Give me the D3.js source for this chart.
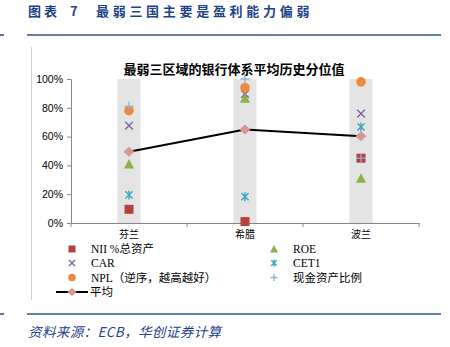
<!DOCTYPE html>
<html>
<head>
<meta charset="utf-8">
<script src="https://cdn.jsdelivr.net/npm/d3@7/dist/d3.min.js"></script>
<style>
  html, body { margin: 0; padding: 0; background: #fff; }
  svg { display: block; }
</style>
</head>
<body>
<svg id="chart" width="450" height="347"></svg>
<script>
// Regions and historical percentile values per indicator
const categories = ["芬兰", "希腊", "波兰"];
const niiToAssets = [0.095, 0.01, 0.45];
const roe = [0.41, 0.866, 0.31];
const car = [0.676, 0.896, 0.76];
const cet1 = [0.195, 0.183, 0.667];
const nplReversed = [0.78, 0.94, 0.98];
const cashRatio = [0.81, 1.0, 0.45];
const yTicks = [0, 0.2, 0.4, 0.6, 0.8, 1.0];

const seriesNames = ["NII %总资产", "CAR", "NPL（逆序，越高越好）", "ROE", "CET1", "现金资产比例"];
const averageName = "平均";

const series = [
  { name: seriesNames[0], values: niiToAssets, shape: "square", color: "#B5403E" },
  { name: seriesNames[1], values: car, shape: "x", color: "#7F62A1" },
  { name: seriesNames[2], values: nplReversed, shape: "circle", color: "#EE8A3C" },
  { name: seriesNames[3], values: roe, shape: "triangle", color: "#8DB04D" },
  { name: seriesNames[4], values: cet1, shape: "star", color: "#3FA6C0" },
  { name: seriesNames[5], values: cashRatio, shape: "plus", color: "#90ADD6" }
];

// Average across indicators for each region
const averages = categories.map((c, i) => d3.mean(series, s => s.values[i]));

const svg = d3.select("#chart");
const cjk = "'Noto Sans CJK SC', 'Noto Sans', sans-serif";
const blue = "#2C5597";

// Page header
const header = svg.append("g").attr("fill", "#1F4388")
  .attr("font-family", cjk).attr("font-weight", "bold").attr("font-size", 13);
header.append("text").attr("x", 28).attr("y", 15.5).attr("letter-spacing", 3).text("图表");
header.append("text").attr("x", 70).attr("y", 15.5).text("7");
header.append("text").attr("x", 96).attr("y", 15.5).attr("letter-spacing", 3.7).text("最弱三国主要是盈利能力偏弱");

svg.append("line").attr("x1", 27).attr("x2", 441).attr("y1", 35).attr("y2", 35)
  .attr("stroke", blue).attr("stroke-width", 1.6);
svg.append("line").attr("x1", 0).attr("x2", 4).attr("y1", 35).attr("y2", 35)
  .attr("stroke", blue).attr("stroke-width", 1.6);

// Chart frame (left edge)
svg.append("line").attr("x1", 31.5).attr("x2", 31.5).attr("y1", 47).attr("y2", 300)
  .attr("stroke", "#d0d0d0").attr("stroke-width", 1);

// Footer
svg.append("line").attr("x1", 27).attr("x2", 441).attr("y1", 314).attr("y2", 314)
  .attr("stroke", blue).attr("stroke-width", 1.6);
svg.append("line").attr("x1", 0).attr("x2", 4).attr("y1", 314).attr("y2", 314)
  .attr("stroke", blue).attr("stroke-width", 1.6);
svg.append("text").attr("x", 28).attr("y", 337).attr("fill", "#1F4388")
  .attr("font-family", cjk).attr("font-style", "italic").attr("font-size", 13.5)
  .attr("letter-spacing", 0.4).text("资料来源：ECB，华创证券计算");

// Scales
const x = d3.scaleBand().domain(categories).range([71, 419]);
const y = d3.scaleLinear().domain([0, 1]).range([223, 79]);

// Chart title
svg.append("text").attr("x", 234).attr("y", 74).attr("text-anchor", "middle")
  .attr("font-family", cjk).attr("font-weight", "bold").attr("font-size", 13)
  .attr("fill", "#000").text("最弱三区域的银行体系平均历史分位值");

// Grey range bands behind each region
const bandW = 23;
svg.append("g").selectAll("rect").data(categories).join("rect")
  .attr("x", d => x(d) + x.bandwidth() / 2 - bandW / 2)
  .attr("y", y(1)).attr("width", bandW).attr("height", y(0) - y(1))
  .attr("fill", "#e4e4e4");

// Y axis
const yAxis = svg.append("g").attr("transform", "translate(71,0)")
  .call(d3.axisLeft(y).tickValues(yTicks).tickFormat(d3.format(".0%")).tickSize(4).tickPadding(4));
yAxis.select(".domain").attr("stroke", "#868686");
yAxis.selectAll(".tick line").attr("stroke", "#868686");
yAxis.selectAll(".tick text").attr("font-family", "'Liberation Sans', Arial, sans-serif")
  .attr("font-size", 10.5).attr("fill", "#000");

// X axis with ticks on band boundaries
const xAxis = svg.append("g").attr("transform", "translate(0,223)")
  .call(d3.axisBottom(x).tickSize(0).tickPadding(8));
xAxis.select(".domain").attr("stroke", "#868686");
xAxis.selectAll(".tick text").attr("font-family", cjk).attr("font-size", 10).attr("fill", "#000");
const bounds = categories.map(c => x(c)).concat([x.range()[1]]);
xAxis.append("g").selectAll("line").data(bounds).join("line")
  .attr("x1", d => d).attr("x2", d => d).attr("y1", 0).attr("y2", 4)
  .attr("stroke", "#868686");

// Marker drawing
function marker(g, shape, color, s) {
  const h = s / 2;
  if (shape === "square") {
    g.append("rect").attr("x", -h).attr("y", -h).attr("width", s).attr("height", s).attr("fill", color);
  } else if (shape === "circle") {
    g.append("circle").attr("r", h + 0.3).attr("fill", color);
  } else if (shape === "triangle") {
    g.append("path").attr("d", `M0,${-h - 0.5}L${h + 0.5},${h}L${-h - 0.5},${h}Z`).attr("fill", color);
  } else if (shape === "diamond") {
    g.append("path").attr("d", `M0,${-h}L${h + 0.5},0L0,${h}L${-h - 0.5},0Z`).attr("fill", color);
  } else if (shape === "x") {
    const a = h * 0.85;
    g.append("path").attr("d", `M${-a},${-a}L${a},${a}M${a},${-a}L${-a},${a}`)
      .attr("stroke", color).attr("stroke-width", 1.4).attr("fill", "none");
  } else if (shape === "star") {
    const a = h * 0.8;
    g.append("path").attr("d", `M${-a},${-a}L${a},${a}M${a},${-a}L${-a},${a}M0,${-h}L0,${h}`)
      .attr("stroke", color).attr("stroke-width", 1.4).attr("fill", "none");
  } else if (shape === "plus") {
    g.append("path").attr("d", `M${-h},0L${h},0M0,${-h}L0,${h}`)
      .attr("stroke", color).attr("stroke-width", 1.3).attr("fill", "none");
  }
}

const cx = c => x(c) + x.bandwidth() / 2;

// Average line
svg.append("path").datum(averages)
  .attr("d", d3.line().x((d, i) => cx(categories[i])).y(d => y(d)))
  .attr("fill", "none").attr("stroke", "#000").attr("stroke-width", 2);

// Indicator markers (drawn in series order)
series.forEach(s => {
  s.values.forEach((v, i) => {
    const g = svg.append("g").attr("transform", `translate(${cx(categories[i])},${y(v)})`);
    marker(g, s.shape, s.color, 9);
  });
});

// Average markers
averages.forEach((v, i) => {
  const g = svg.append("g").attr("transform", `translate(${cx(categories[i])},${y(v)})`);
  marker(g, "diamond", "#D99593", 10);
});

// Legend
const legendRows = [249, 263, 277.5];
const legendCols = [{ m: 72, t: 91 }, { m: 274, t: 293 }];
const legend = svg.append("g");
series.forEach((s, k) => {
  const col = legendCols[Math.floor(k / 3)];
  const row = legendRows[k % 3];
  const g = legend.append("g").attr("transform", `translate(${col.m},${row})`);
  marker(g, s.shape, s.color, 7);
  legend.append("text").attr("x", col.t).attr("y", row + 4)
    .attr("font-family", "'Liberation Serif', 'Noto Sans CJK SC', serif")
    .attr("font-size", 11.5).attr("fill", "#000").text(s.name);
});
legend.append("line").attr("x1", 56).attr("x2", 88).attr("y1", 292).attr("y2", 292)
  .attr("stroke", "#000").attr("stroke-width", 2);
marker(legend.append("g").attr("transform", "translate(72,292)"), "diamond", "#D99593", 8);
legend.append("text").attr("x", 90).attr("y", 296)
  .attr("font-family", "'Liberation Serif', 'Noto Sans CJK SC', serif")
  .attr("font-size", 11.5).attr("fill", "#000").text(averageName);
</script>
</body>
</html>
